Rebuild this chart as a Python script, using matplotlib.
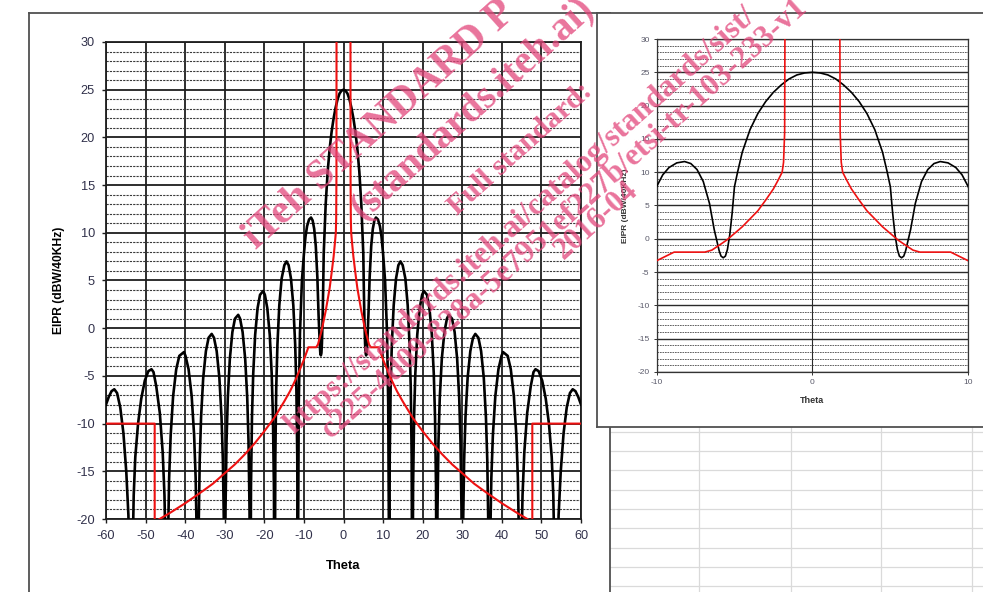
import matplotlib
matplotlib.use("Agg")
import matplotlib.pyplot as plt
from matplotlib.ticker import MultipleLocator, FixedLocator

# ---------------- data ----------------
# antenna pattern, positive half (symmetric about 0)
theta_pos = [0.0, 0.5, 1.0, 1.5, 2.0, 2.5, 3.0, 3.5, 4.0, 4.5, 4.8, 5.0, 5.15, 5.3,
             5.45, 5.58, 5.72, 5.86, 5.98, 6.1, 6.3, 6.6, 7.0, 7.4, 7.8, 8.2, 8.7,
             9.2, 9.6, 10.0, 10.5, 11.0, 11.3, 11.45, 11.5,
             11.68, 11.91, 12.21, 12.68, 13.27, 13.86, 14.4, 14.95, 15.63, 16.22,
             16.69, 16.99, 17.22, 17.4,
             17.58, 17.83, 18.14, 18.63, 19.25, 19.86, 20.3, 21.09, 21.71, 22.32,
             22.81, 23.12, 23.37, 23.55,
             23.74, 24.0, 24.32, 24.84, 25.49, 26.13, 26.6, 27.42, 28.07, 28.71,
             29.23, 29.55, 29.81, 30.0,
             30.2, 30.48, 30.82, 31.36, 32.04, 32.72, 33.3, 34.08, 34.76, 35.44,
             35.98, 36.32, 36.6, 36.8,
             37.03, 37.35, 37.74, 38.36, 39.14, 39.92, 40.3, 41.48, 42.26, 43.04,
             43.66, 44.05, 44.37, 44.6,
             44.87, 45.23, 45.68, 46.4, 47.3, 48.0, 48.5, 49.3, 50.2, 51.1,
             51.9, 52.6, 53.0, 53.33, 53.6,
             53.92, 54.34, 54.87, 55.6, 56.4, 57.2, 57.9, 58.6, 59.3, 60.0]
eirp_pos = [25.0, 24.9, 24.6, 24.0, 23.1, 22.0, 20.6, 18.8, 16.4, 13.0, 10.0, 7.8, 3.8, 0.6,
            -1.6, -2.6, -2.85, -2.6, -1.8, -0.6, 1.4, 5.3, 8.6, 10.4, 11.3, 11.6, 11.4,
            10.7, 9.6, 7.8, 5.0, -0.5, -8.0, -20.0, -35.0,
            -13.5, -6.2, -1.7, 2.4, 5.2, 6.6, 7.0, 6.6, 5.2, 2.4,
            -1.7, -6.2, -13.5, -35.0,
            -16.6, -9.3, -4.8, -0.7, 2.1, 3.5, 3.9, 3.5, 2.1, -0.7,
            -4.8, -9.3, -16.6, -35.0,
            -19.1, -11.8, -7.3, -3.2, -0.4, 1.0, 1.4, 1.0, -0.4, -3.2,
            -7.3, -11.8, -19.1, -35.0,
            -21.1, -13.8, -9.3, -5.2, -2.4, -1.0, -0.6, -1.0, -2.4, -5.2,
            -9.3, -13.8, -21.1, -35.0,
            -23.0, -15.7, -11.2, -7.1, -4.3, -2.9, -2.5, -2.9, -4.3, -7.1,
            -11.2, -15.7, -23.0, -35.0,
            -24.8, -17.5, -13.0, -8.9, -6.1, -4.6, -4.3, -4.5, -5.5, -7.4,
            -10.0, -13.5, -17.5, -24.8, -35.0,
            -26.9, -19.6, -15.1, -11.0, -8.3, -6.8, -6.4, -6.6, -7.2, -8.0]

# EIRP mask, positive half (symmetric about 0)
mask_theta_pos = [1.75, 1.78, 1.85, 1.94, 2.2, 2.5, 3.0, 3.5, 4.0, 4.5, 5.0, 5.5, 6.0,
                  6.45, 6.9, 8.87, 10.0, 11.0, 12.0, 13.5, 15.0, 17.5, 20.0, 22.5,
                  25.0, 27.5, 30.0, 33.0, 36.0, 40.0, 44.0, 47.7, 47.7, 60.0]
mask_pos = [40.0, 16.0, 11.5, 10.0, 8.8, 7.5, 5.8, 4.2, 3.0, 1.8, 0.8, -0.2, -1.0,
            -1.7, -2.0, -2.0, -3.3, -4.3, -5.3, -6.6, -7.7, -9.4, -10.8, -12.1,
            -13.25, -14.3, -15.2, -16.3, -17.2, -18.35, -19.4, -20.3, -10.0, -10.0]

main_xticks = [-60, -50, -40, -30, -20, -10, 0, 10, 20, 30, 40, 50, 60]
inset_xticks = [-10, 0, 10]
yticks = [-20, -15, -10, -5, 0, 5, 10, 15, 20, 25, 30]
ylabel = "EIPR (dBW/40KHz)"
xlabel = "Theta"

# watermark, as far as it is visible in the picture
watermark = ["iTeh STANDARD P", "(standards.iteh.ai)", "Full standard:",
             "https://standards.iteh.ai/catalog/standards/sist/",
             "c225-4d09-828a-5e7951ef227b/etsi-tr-103-233-v1", "2016-04"]

# full symmetric series
theta = [-t for t in reversed(theta_pos[1:])] + theta_pos
eirp = list(reversed(eirp_pos[1:])) + eirp_pos
mask_theta = [-t for t in reversed(mask_theta_pos)] + mask_theta_pos
mask = list(reversed(mask_pos)) + mask_pos

# ---------------- figure ----------------
W, H = 983, 592
plt.rcParams["font.family"] = ["Liberation Sans", "DejaVu Sans"]
plt.rcParams["axes.unicode_minus"] = False
fig = plt.figure(figsize=(W / 100, H / 100), dpi=100)
fig.patch.set_facecolor("white")


def box(l, t, r, b):
    return [l / W, 1 - b / H, (r - l) / W, (b - t) / H]


# spreadsheet background
bg = fig.add_axes([0, 0, 1, 1], zorder=0)
bg.set_xlim(0, W)
bg.set_ylim(H, 0)
bg.axis("off")
for x in [699, 791, 881, 972]:
    bg.plot([x, x], [427, H], color="#dadada", lw=0.9)
for y in [432, 451, 470, 490, 509, 528, 548, 567, 586]:
    bg.plot([610, W], [y, y], color="#dadada", lw=0.9)


def frame(rect, z):
    a = fig.add_axes(rect, zorder=z)
    a.set_facecolor("white")
    a.set_xticks([])
    a.set_yticks([])
    for s in a.spines.values():
        s.set_color("#505050")
        s.set_linewidth(1.3)
    return a


frame(box(29, 13, 610, 640), 1)

tick_col = "#30304a"

# ---------------- main chart ----------------
ax = fig.add_axes(box(106, 42, 581, 519), zorder=2)
ax.set_xlim(-60, 60)
ax.set_ylim(-20, 30)
ax.xaxis.set_major_locator(FixedLocator(main_xticks))
ax.yaxis.set_major_locator(FixedLocator(yticks))
ax.yaxis.set_minor_locator(MultipleLocator(1))
ax.set_axisbelow(True)
ax.grid(which="major", color="#1e1e1e", lw=1.3)
ax.grid(which="minor", axis="y", color="#3a3a3a", lw=0.8, ls=(0, (2.0, 1.0)))
ax.tick_params(which="minor", length=0)
ax.tick_params(which="major", length=3, width=1.0, color="#1e1e1e", pad=5,
               labelsize=9.2, labelcolor=tick_col)
for s in ax.spines.values():
    s.set_color("#1e1e1e")
    s.set_linewidth(1.3)
ax.plot(theta, eirp, color="black", lw=1.9, zorder=3)
ax.plot(mask_theta, mask, color="#ee1111", lw=1.5, zorder=4)
ax.set_ylabel(ylabel, fontsize=8.7, fontweight="bold", labelpad=8)
ax.set_xlabel(xlabel, fontsize=9.4, fontweight="bold", labelpad=13)

# ---------------- inset chart ----------------
frame(box(597, 13, 1000, 427), 3)
ax2 = fig.add_axes(box(656.5, 39, 968.3, 372), zorder=4)
ax2.set_xlim(-10, 10)
ax2.set_ylim(-20, 30)
ax2.xaxis.set_major_locator(FixedLocator(inset_xticks))
ax2.yaxis.set_major_locator(FixedLocator(yticks))
ax2.yaxis.set_minor_locator(MultipleLocator(1))
ax2.set_axisbelow(True)
ax2.grid(which="major", axis="y", color="#2a2a2a", lw=1.0)
ax2.grid(which="major", axis="x", color="#2a2a2a", lw=0.8)
ax2.grid(which="minor", axis="y", color="#4a4a4a", lw=0.6, ls=(0, (2.0, 1.0)))
ax2.tick_params(which="minor", length=0)
ax2.tick_params(which="major", length=2, width=0.7, color="#333", pad=3,
                labelsize=6, labelcolor="#5a5a6a")
for s in ax2.spines.values():
    s.set_color("#333333")
    s.set_linewidth(0.9)
ax2.plot(theta, eirp, color="black", lw=1.2, zorder=3)
ax2.plot(mask_theta, mask, color="#ee1111", lw=1.2, zorder=4)
ax2.set_ylabel(ylabel, fontsize=6, fontweight="bold", labelpad=6, color="#333")
ax2.set_xlabel(xlabel, fontsize=6.5, fontweight="bold", labelpad=7, color="#333")

# ---------------- watermark ----------------
wm_pos = [(256, 250, 30), (362, 221, 29), (457, 216, 21.5),
          (294, 435, 22.5), (331, 439, 22.5), (564, 260, 22)]
for s, (px, py, fs) in zip(watermark, wm_pos):
    fig.text(px / W, 1 - py / H, s, rotation=42, rotation_mode="anchor",
             ha="left", va="baseline", fontsize=fs, fontweight="bold",
             family=["Liberation Serif", "DejaVu Serif"],
             color="#e2457a", alpha=0.75, zorder=10)

fig.savefig("out.png", dpi=100)
